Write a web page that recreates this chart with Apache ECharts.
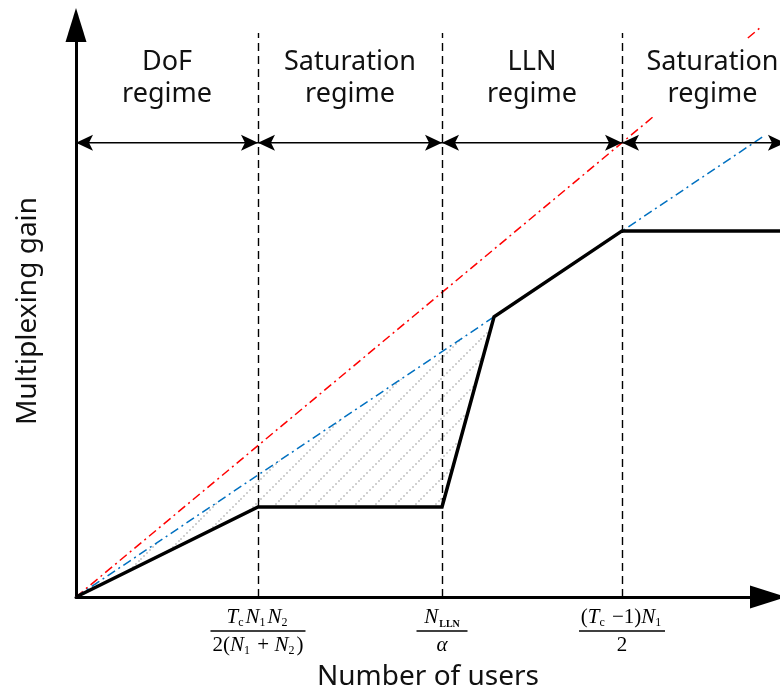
<!DOCTYPE html>
<html><head><meta charset="utf-8">
<script src="https://cdn.jsdelivr.net/npm/echarts@6/dist/echarts.min.js"></script>
<style>html,body{margin:0;padding:0;background:#fff}#c{width:780px;height:690px}</style>
</head><body><div id="c"></div>
<script>
// ---- data (abstract units: x 0..100, y 0..100) ----
const boundaryX = [25.85, 51.99, 77.56];          // regime boundaries
const regimeEdges = [0, 25.85, 51.99, 77.56, 100.7];
const regimeNames = ['DoF\nregime', 'Saturation\nregime', 'LLN\nregime', 'Saturation\nregime'];
const gainX = [0, 25.85, 51.99, 59.38, 77.56, 100];
const gainY = [0, 15.73, 15.73, 49.0, 64.0, 64.0];
const redX = [0, 97.16];
const redY = [0, 99.5];
const blueX = [0, 97.6];
const blueY = [0, 80.5];
const tickLabels = [
  '{i|T}{sc|c}{i|N}{s|1}{i|N}{s|2}\n{bar1| }\n{r|2(}{i|N}{s|1}{r| + }{i|N}{s|2}{r|)}',
  '{i|N}{lln|LLN}\n{bar2| }\n{i|α}',
  '{r|(}{i|T}{sc|c}{r| −1)}{i|N}{s|1}\n{bar3| }\n{r|2}'
];

const zip = (a, b) => a.map((v, i) => [v, b[i]]);
const gain = zip(gainX, gainY);
// hatched region: between blue line and gain curve, up to where they meet
const hatchPoly = [gain[0], gain[3], gain[2], gain[1]];
const regimeSpans = regimeNames.map((n, i) => [regimeEdges[i], regimeEdges[i + 1]]);

// hatch pattern
const pc = document.createElement('canvas');
pc.width = 20; pc.height = 20;
const pctx = pc.getContext('2d');
pctx.fillStyle = '#d2d2d2';
for (let i = 0; i < 20; i += 3) pctx.fillRect(i, 18 - i, 2, 2);

const FONT = 'Noto Sans';
const SERIF = 'Liberation Serif';
const ARROW_Y = 79.4, DASH_TOP = 98.6;

const chart = echarts.init(document.getElementById('c'), null, {renderer: 'canvas'});

const dashItems = boundaryX.map(b => [{coord: [b, 0]}, {coord: [b, DASH_TOP]}]);

function arrowHead(tip, dir) {
  const L = 17, W = 8, N = 4;
  return {type: 'polygon',
    shape: {points: [[tip[0], tip[1]], [tip[0] - dir * L, tip[1] - W], [tip[0] - dir * (L - N), tip[1]], [tip[0] - dir * L, tip[1] + W]]},
    style: {fill: '#000'}};
}

chart.setOption({
  animation: false,
  backgroundColor: '#fff',
  grid: {left: 76, right: 0, top: 25, bottom: 93, containLabel: false, outerBoundsMode: 'none'},
  xAxis: {
    type: 'value', min: 0, max: 100,
    splitLine: {show: false},
    axisTick: {show: false},
    axisLine: {show: true, onZero: false, symbol: ['none', 'triangle'], symbolSize: [23, 36], symbolOffset: [0, -12],
      lineStyle: {color: '#000', width: 3}},
    axisLabel: {
      show: true, customValues: boundaryX, margin: 8, color: '#000',
      formatter: function (v) {
        let k = 0, d = Infinity;
        boundaryX.forEach((b, i) => { if (Math.abs(b - v) < d) { d = Math.abs(b - v); k = i; } });
        return tickLabels[k];
      },
      rich: {
        i: {fontFamily: SERIF, fontStyle: 'italic', fontSize: 21, lineHeight: 24, color: '#000'},
        r: {fontFamily: SERIF, fontSize: 21, lineHeight: 24, color: '#000'},
        s: {fontFamily: SERIF, fontSize: 12, lineHeight: 12, verticalAlign: 'bottom', color: '#000', padding: [0, 2, 0, 0]},
        sc: {fontFamily: SERIF, fontSize: 12, lineHeight: 12, verticalAlign: 'bottom', color: '#000', padding: [0, 2, 0, 0]},
        lln: {fontFamily: SERIF, fontWeight: 'bold', fontSize: 10, lineHeight: 12, verticalAlign: 'bottom', color: '#000', padding: [0, 0, 0, 1]},
        bar1: {width: 95, height: 1.5, lineHeight: 4, fontSize: 1, backgroundColor: '#000'},
        bar2: {width: 51, height: 1.5, lineHeight: 4, fontSize: 1, backgroundColor: '#000'},
        bar3: {width: 86, height: 1.5, lineHeight: 4, fontSize: 1, backgroundColor: '#000'}
      }
    },
    name: 'Number of users', nameLocation: 'middle', nameGap: 66,
    nameTextStyle: {fontFamily: FONT, fontSize: 28, color: '#111'}
  },
  yAxis: {
    type: 'value', min: 0, max: 100,
    splitLine: {show: false}, axisTick: {show: false}, axisLabel: {show: false},
    axisLine: {show: true, onZero: false, symbol: ['none', 'triangle'], symbolSize: [21, 34],
      lineStyle: {color: '#000', width: 3}},
    name: 'Multiplexing gain', nameLocation: 'middle', nameGap: 34,
    nameTextStyle: {fontFamily: FONT, fontSize: 28, color: '#111'}
  },
  series: [
    {
      type: 'custom', clip: false, z: 1, silent: true,
      data: [[0, 0]],
      renderItem: function (params, api) {
        return {type: 'polygon', shape: {points: hatchPoly.map(p => api.coord(p))},
                style: {fill: {image: pc, repeat: 'repeat'}}};
      }
    },
    {
      type: 'line', data: zip(redX, redY), symbol: 'none', clip: false, z: 3,
      lineStyle: {color: '#ff0000', width: 1.5, type: [9, 4, 2, 4]}
    },
    {
      type: 'line', data: zip(blueX, blueY), symbol: 'none', clip: false, z: 3,
      lineStyle: {color: '#0070c0', width: 1.5, type: [9, 4, 2, 4]}
    },
    {
      type: 'line', data: gain, symbol: 'none', clip: false, z: 5,
      lineStyle: {color: '#000', width: 3.5, join: 'miter'},
      markLine: {
        silent: true, animation: false, symbol: 'none',
        lineStyle: {color: '#000', width: 1.4, type: [8, 5]},
        label: {show: false},
        data: dashItems
      }
    },
    {
      type: 'custom', clip: false, z: 6, silent: true,
      data: regimeSpans,
      renderItem: function (params, api) {
        const i = params.dataIndex;
        const a = api.coord([api.value(0), ARROW_Y]);
        const b = api.coord([api.value(1), ARROW_Y]);
        return {type: 'group', children: [
          {type: 'line', shape: {x1: a[0], y1: a[1], x2: b[0], y2: b[1]}, style: {stroke: '#000', lineWidth: 1.5}},
          arrowHead(b, 1), arrowHead(a, -1),
          {type: 'text', x: (a[0] + b[0]) / 2 + (i === 3 ? 9 : 0), y: a[1] - 26,
           style: {text: regimeNames[i], align: 'center', verticalAlign: 'bottom',
                   fontFamily: FONT, fontSize: 27, lineHeight: 32, fill: '#111',
                   backgroundColor: '#fff', padding: [6, 4, 7, 4]}}
        ]};
      }
    }
  ]
});
</script>
</body></html>
